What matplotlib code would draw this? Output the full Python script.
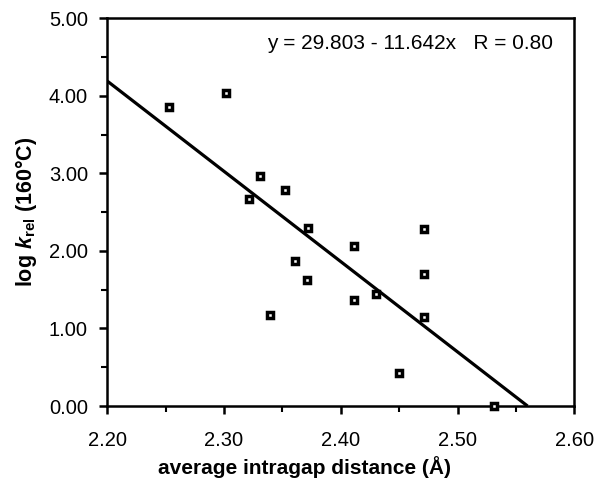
import matplotlib
matplotlib.use("Agg")
import matplotlib.pyplot as plt
import numpy as np
from matplotlib.ticker import MultipleLocator

plt.rcParams['font.family'] = ['Liberation Sans', 'DejaVu Sans']
plt.rcParams['mathtext.fontset'] = 'custom'
plt.rcParams['mathtext.rm'] = 'Liberation Sans'
plt.rcParams['mathtext.it'] = 'Liberation Sans:italic'
plt.rcParams['mathtext.bf'] = 'Liberation Sans:bold'
plt.rcParams['mathtext.bfit'] = 'Liberation Sans:italic:bold'

# data
distance = [2.253, 2.302, 2.331, 2.352, 2.321, 2.372, 2.411, 2.361, 2.371,
            2.411, 2.430, 2.339, 2.471, 2.471, 2.471, 2.450, 2.531]
log_krel = [3.85, 4.04, 2.97, 2.79, 2.67, 2.30, 2.06, 1.87, 1.62,
            1.37, 1.45, 1.18, 2.28, 1.70, 1.15, 0.43, 0.00]
intercept = 29.803
slope = -11.642
r_value = 0.80
xticks = [2.20, 2.30, 2.40, 2.50, 2.60]
yticks = [0.0, 1.0, 2.0, 3.0, 4.0, 5.0]

fig = plt.figure(figsize=(5.95, 4.87), dpi=100)
ax = fig.add_axes([0.1803, 0.1663, 0.7849, 0.7961])

x_end = -intercept / slope
xl = np.array([2.20, x_end])
ax.plot(xl, intercept + slope * xl, color='black', lw=2.3, solid_capstyle='butt', zorder=2)
ax.plot(distance, log_krel, linestyle='none', marker='s', markersize=4.8,
        markerfacecolor='white', markeredgecolor='black', markeredgewidth=2.5,
        zorder=3, clip_on=False)

ax.set_xlim(2.20, 2.60)
ax.set_ylim(0, 5)
ax.set_xticks(xticks)
ax.set_yticks(yticks)
ax.set_xticklabels([f"{v:.2f}" for v in xticks])
ax.set_yticklabels([f"{v:.2f}" for v in yticks])
ax.xaxis.set_minor_locator(MultipleLocator(0.05))
ax.yaxis.set_minor_locator(MultipleLocator(0.5))
ax.tick_params(axis='both', which='major', direction='out', length=6, width=1.8,
               labelsize=14.5)
ax.tick_params(axis='x', which='major', pad=12)
ax.tick_params(axis='y', which='major', pad=8)
ax.tick_params(axis='both', which='minor', direction='out', length=4, width=1.5)
ax.tick_params(top=False, right=False, which='both')
for s in ax.spines.values():
    s.set_linewidth(1.8)

ax.set_xlabel('average intragap distance (Å)', fontsize=15, fontweight='bold')
ax.xaxis.set_label_coords(0.423, -0.13)
ax.set_ylabel(r'log $\mathbfit{k}_{\mathbf{rel}}$ (160°C)', fontsize=15.5,
              fontweight='bold', labelpad=7)

ax.text(0.955, 0.935, f'y = {intercept:.3f} - {abs(slope):.3f}x   R = {r_value:.2f}',
        transform=ax.transAxes, ha='right', va='center', fontsize=15)

fig.savefig('out.png', dpi=100)
